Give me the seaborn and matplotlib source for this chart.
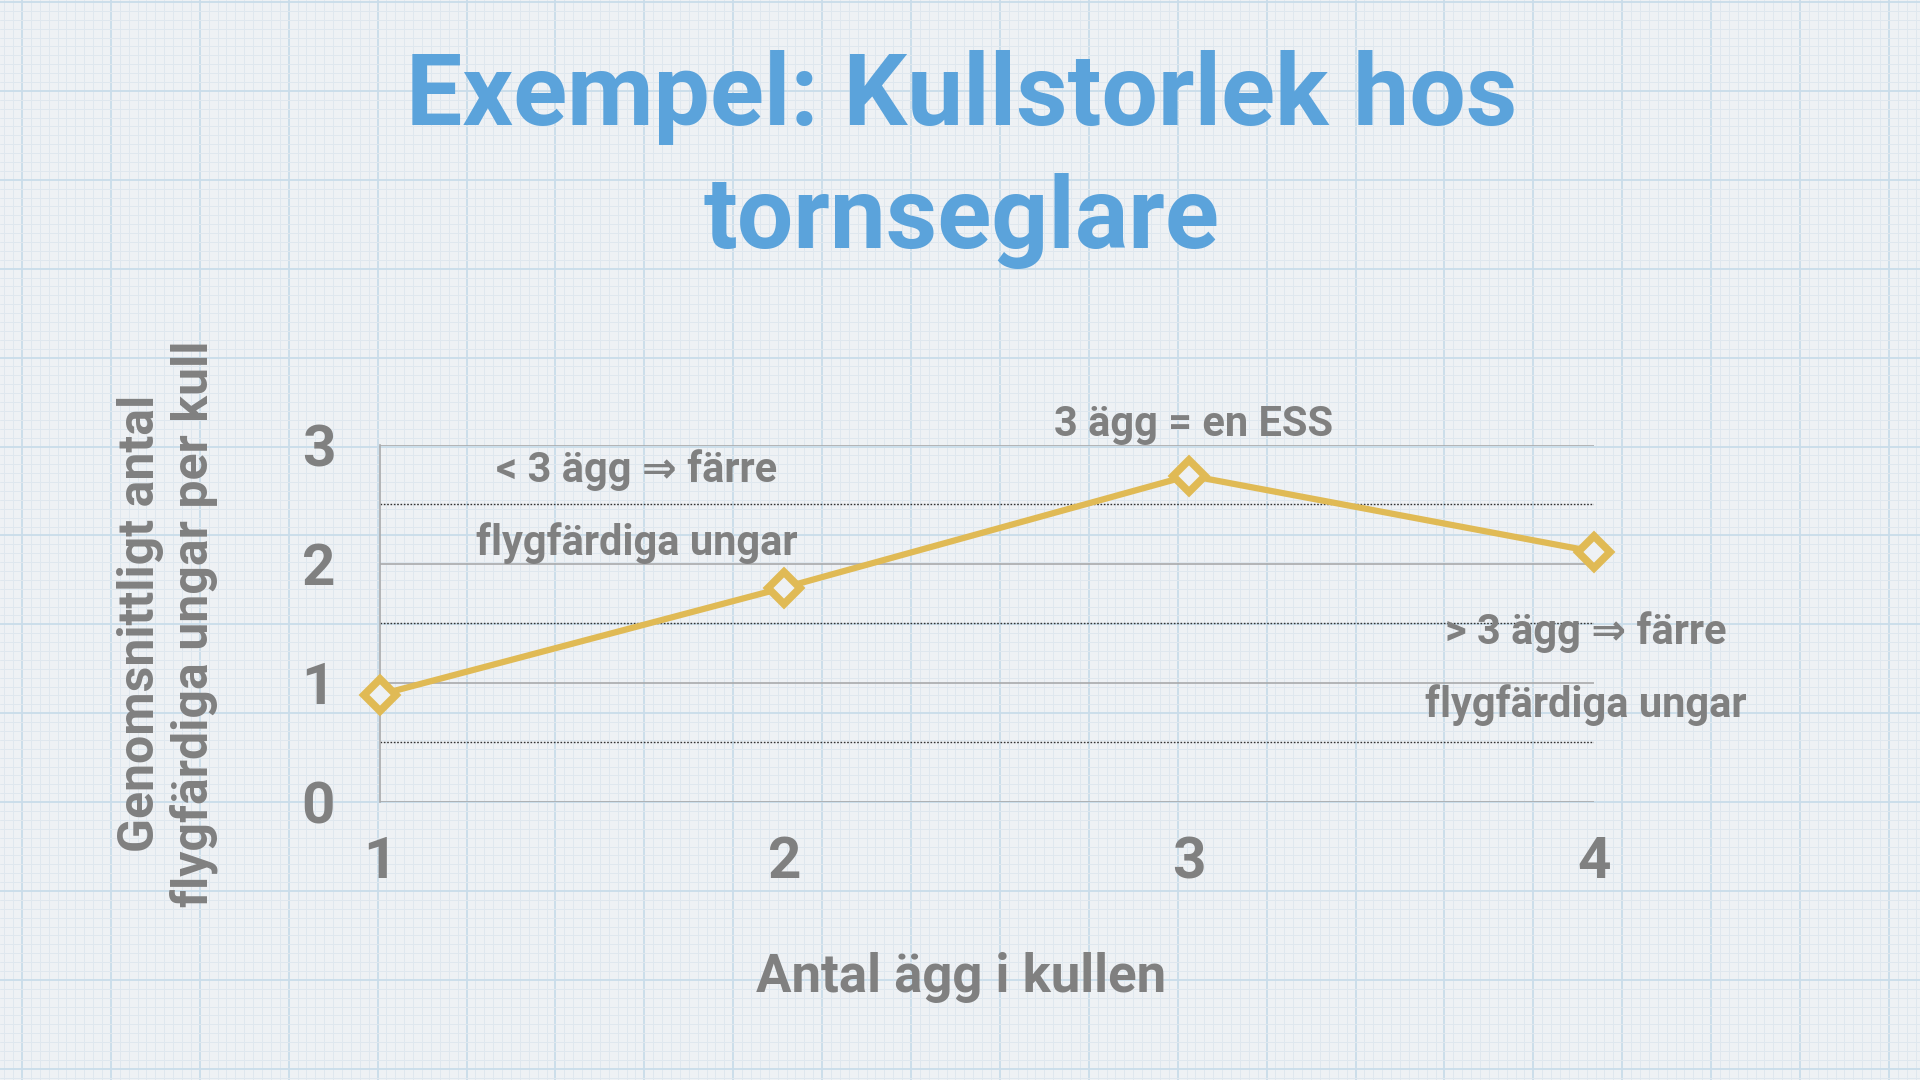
import numpy as np
import pandas as pd
import matplotlib
matplotlib.use("Agg")
import matplotlib.pyplot as plt
import seaborn as sns

# === DONNÉES ===
antal_agg = [1, 2, 3, 4]
flygfardiga = [0.90, 1.80, 2.74, 2.10]
y_ticks = [0, 1, 2, 3]
x_ticks = [1, 2, 3, 4]

title_line1 = "Exempel: Kullstorlek hos"
title_line2 = "tornseglare"
xlabel = "Antal ägg i kullen"
ylabel = "Genomsnittligt antal\nflygfärdiga ungar per kull"
note_left = "< 3 ägg ⇒ färre\nflygfärdiga ungar"
note_top = "3 ägg = en ESS"
note_right = "> 3 ägg ⇒ färre\nflygfärdiga ungar"

# === STYLE ===
BG = "#eef1f4"
BLUE = "#5ba3db"
GREY = "#808080"
GOLD = "#e0ba55"

sns.set_theme(style="white")
plt.rcParams["font.family"] = ["Roboto", "DejaVu Sans"]
plt.rcParams["font.weight"] = "bold"

fig = plt.figure(figsize=(19.2, 10.8), dpi=100, facecolor=BG)

# fond papier millimétré
bg = fig.add_axes([0, 0, 1, 1], zorder=0)
bg.set_facecolor(BG)
bg.set_xlim(0, 1920)
bg.set_ylim(1080, 0)
bg.axis("off")
step = 88.9
for i, x in enumerate(np.arange(22 - step, 1920, step / 10)):
    major = (i % 10) == 0
    bg.axvline(x, color="#c9dcea" if major else "#dfe7ee", lw=1.3 if major else 0.7, zorder=0)
for i, y in enumerate(np.arange(2 - step, 1080, step / 10)):
    major = (i % 10) == 0
    bg.axhline(y, color="#c9dcea" if major else "#dfe7ee", lw=1.3 if major else 0.7, zorder=0)

# === GRAPHIQUE ===
ax = fig.add_axes([0.1977, 0.2574, 0.6326, 0.3310], zorder=1)
ax.patch.set_alpha(0)

df = pd.DataFrame({"ägg": antal_agg, "ungar": flygfardiga})

for v in y_ticks:
    ax.axhline(v, color="#a9aaab", lw=1.2, zorder=1)
for v in np.array(y_ticks[:-1]) + 0.5:
    ax.axhline(v, color="#333333", lw=1.0, ls=(0, (1.2, 1.2)), zorder=1)

sns.lineplot(data=df, x="ägg", y="ungar", ax=ax, color=GOLD, lw=4.5,
             marker="D", markersize=16, markeredgewidth=5.5, markeredgecolor=GOLD,
             markerfacecolor=BG, clip_on=False, zorder=3)

ax.set_xlim(1, 4)
ax.set_ylim(0, 3)
ax.set_xticks(x_ticks)
ax.set_yticks(y_ticks)
ax.tick_params(length=0, labelsize=42, labelcolor=GREY)
ax.tick_params(axis="x", pad=24)
ax.tick_params(axis="y", pad=32)
for s in ["top", "right", "bottom"]:
    ax.spines[s].set_visible(False)
ax.spines["left"].set_color("#a9aaab")
ax.spines["left"].set_linewidth(1.2)

ax.set_xlabel(xlabel, fontsize=38, color=GREY, fontweight="bold")
ax.xaxis.set_label_coords(0.479, -0.42)
ax.set_ylabel(ylabel, fontsize=36, color=GREY, fontweight="bold", linespacing=1.15)
ax.yaxis.set_label_coords(-0.133, 0.50)

ax.text(1.635, 2.48, note_left, fontsize=30, color=GREY, ha="center", va="center",
        linespacing=1.95, fontweight="bold")
ax.text(3.01, 3.17, note_top, fontsize=30, color=GREY, ha="center", va="center",
        fontweight="bold")
ax.text(3.98, 1.12, note_right, fontsize=30, color=GREY, ha="center", va="center",
        linespacing=1.95, fontweight="bold", clip_on=False)

# === TITRE ===
fig.text(0.501, 0.910, title_line1, fontsize=72, color=BLUE, ha="center", va="center",
         fontweight="bold")
fig.text(0.501, 0.795, title_line2, fontsize=72, color=BLUE, ha="center", va="center",
         fontweight="bold")

plt.savefig("out.png", dpi=100, facecolor=BG)
plt.close()
